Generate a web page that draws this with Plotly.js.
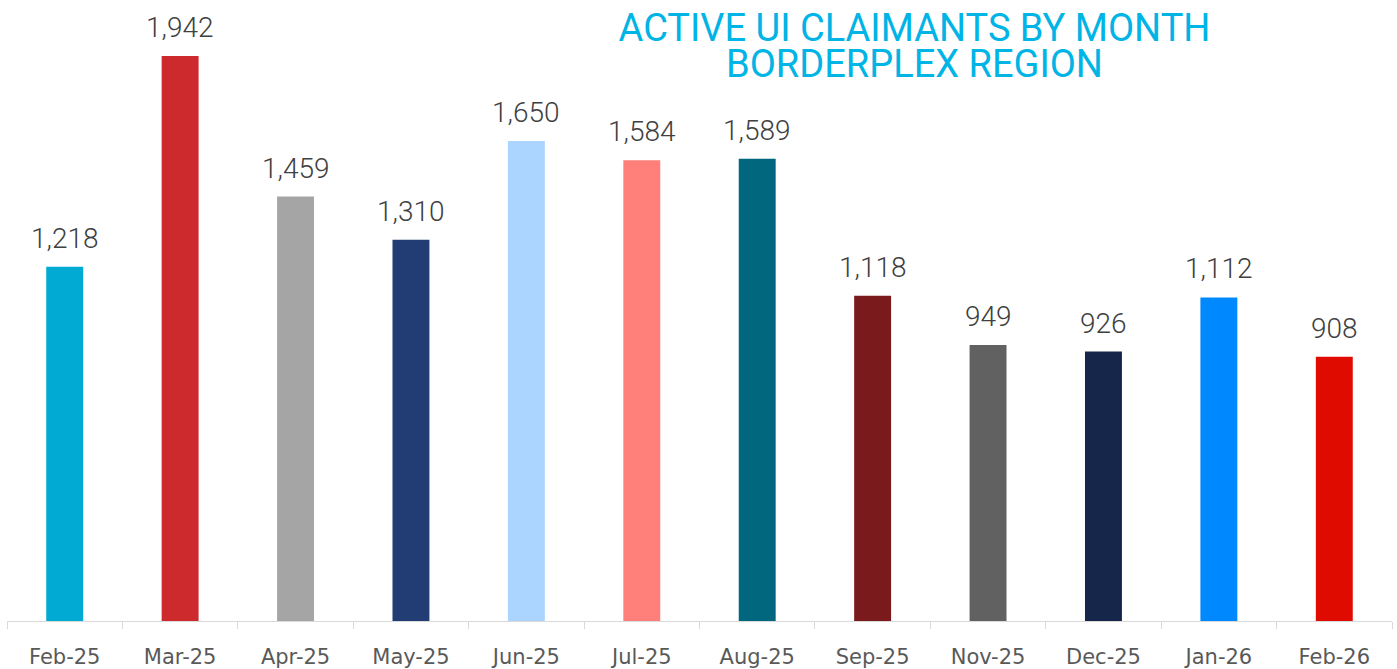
<!DOCTYPE html>
<html>
<head>
<meta charset="utf-8">
<script src="https://cdn.plot.ly/plotly-3.0.1.min.js"></script>
<style>html,body{margin:0;padding:0;background:#fff;}#chart{width:1397px;height:669px;}</style>
</head>
<body>
<div id="chart"></div>
<script>
const months = ["Feb-25","Mar-25","Apr-25","May-25","Jun-25","Jul-25","Aug-25","Sep-25","Nov-25","Dec-25","Jan-26","Feb-26"];
const claimants = [1218,1942,1459,1310,1650,1584,1589,1118,949,926,1112,908];
const barColors = ["#00AAD2","#CC2A2C","#A5A5A5","#213D74","#ABD5FF","#FF7F7A","#00677E","#7B1A1C","#616161","#16264A","#0088FF","#E00B00"];
const titleLines = ["ACTIVE UI CLAIMANTS BY MONTH", "BORDERPLEX REGION"];

const FONT = "Roboto, 'Open Sans', sans-serif";
const TICKFONT = "'DejaVu Sans', 'Open Sans', sans-serif";

const trace = {
  type: "bar",
  x: months,
  y: claimants,
  marker: {color: barColors},
  width: 0.32,
  hoverinfo: "x+y"
};

const valueLabels = months.map((m, i) => ({
  x: m,
  y: claimants[i],
  xref: "x", yref: "y",
  text: claimants[i].toLocaleString("en-US"),
  showarrow: false,
  xanchor: "center",
  yanchor: "bottom",
  yshift: 10,
  font: {family: FONT, size: 28, color: "#404040", weight: 300}
}));

const layout = {
  width: 1397,
  height: 669,
  margin: {l: 7, r: 5, t: 0, b: 48},
  paper_bgcolor: "#ffffff",
  plot_bgcolor: "#ffffff",
  showlegend: false,
  title: {
    text: titleLines.map(t => '<span style="font-size:38px">' + t + '</span>').join("<br>"),
    font: {family: FONT, size: 27.7, color: "#00B4E6", weight: 400},
    x: 914.5/1397,
    xanchor: "center",
    xref: "container",
    yref: "container",
    y: 1 - 41/669,
    yanchor: "top"
  },
  annotations: valueLabels,
  xaxis: {
    type: "category",
    range: [-0.5, 11.5],
    showline: true,
    linecolor: "#D9D9D9",
    linewidth: 1,
    ticks: "outside",
    tickson: "boundaries",
    ticklen: 7,
    tickcolor: "#D9D9D9",
    ticklabelstandoff: 17,
    tickfont: {family: TICKFONT, size: 21, color: "#595959"},
    showgrid: false,
    zeroline: false,
    fixedrange: true
  },
  yaxis: {
    range: [0, 2134.4],
    visible: false,
    showgrid: false,
    zeroline: false,
    fixedrange: true
  }
};

Plotly.newPlot("chart", [trace], layout, {displayModeBar: false, staticPlot: true});
</script>
</body>
</html>
